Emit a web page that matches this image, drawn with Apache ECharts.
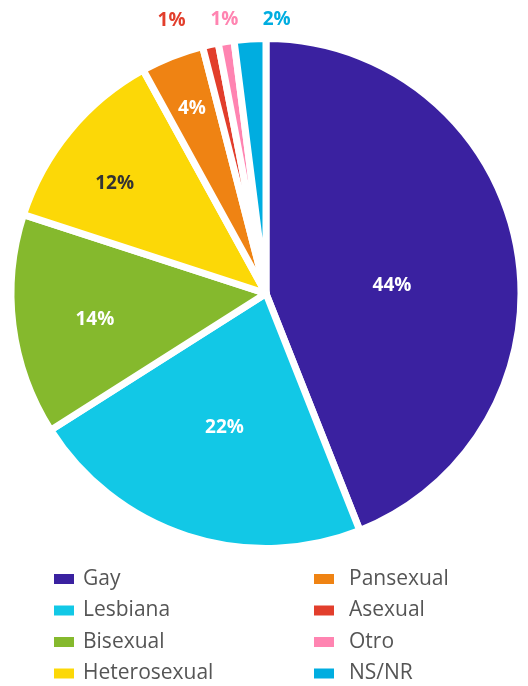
<!DOCTYPE html>
<html><head><meta charset="utf-8">
<script src="https://cdn.jsdelivr.net/npm/echarts@6/dist/echarts.min.js"></script>
<style>html,body{margin:0;padding:0;background:#fff}#c{width:528px;height:686px}</style>
</head><body><div id="c"></div>
<script>
// Data
const categories = ['Gay', 'Lesbiana', 'Bisexual', 'Heterosexual', 'Pansexual', 'Asexual', 'Otro', 'NS/NR'];
const values = [44, 22, 14, 12, 4, 1, 1, 2];
const legendLeft = ['Gay', 'Lesbiana', 'Bisexual', 'Heterosexual'];
const legendRight = ['Pansexual', 'Asexual', 'Otro', 'NS/NR'];

// Styles
const colors = ['#3a21a0', '#12c8e6', '#85b92d', '#fcd807', '#ef8313', '#e23e2c', '#ff84b1', '#00ade0'];
const labelColors = ['#ffffff', '#ffffff', '#ffffff', '#333333', '#ffffff', '#e23e2c', '#ff84b1', '#00ade0'];
const labelRadius = [0.51, 0.56, 0.69, 0.74, 0.80, 1.12, 1.107, 1.096];
const labelShiftX = [0, 2, 1, -8, 0, -33, 2, 28];
const labelShiftY = [16, 0, 4, 9, 2.5, 1.5, 1.5, 1.5];
const CX = 266, CY = 293.5, R = 251.5, BW = 7;

const total = values.reduce((a, b) => a + b, 0);
const mids = [];
let acc = 0;
values.forEach(v => { mids.push((acc + v / 2) / total); acc += v; });

const chart = echarts.init(document.getElementById('c'), null, {renderer: 'canvas'});
const FONT = '"Open Sans", "Noto Sans", sans-serif';

const legendCommon = {
  orient: 'vertical',
  icon: 'rect',
  itemWidth: 22,
  itemHeight: 12,
  itemGap: 9.5,
  padding: 0,
  height: 140,
  selectedMode: false,
  textStyle: {fontFamily: FONT, fontSize: 21, color: '#555555', lineHeight: 22, padding: [0, 0, 0, 3]}
};

chart.setOption({
  animation: false,
  color: colors,
  legend: [
    Object.assign({}, legendCommon, {left: 52, top: 568, data: legendLeft}),
    Object.assign({}, legendCommon, {left: 312, top: 568, data: legendRight, textStyle: Object.assign({}, legendCommon.textStyle, {padding: [0, 0, 0, 9]})})
  ],
  series: [{
    type: 'pie',
    center: [CX, CY],
    radius: R + BW / 2,
    startAngle: 90,
    clockwise: true,
    avoidLabelOverlap: false,
    percentPrecision: 0,
    itemStyle: {borderColor: '#ffffff', borderWidth: BW},
    emphasis: {disabled: true},
    labelLine: {show: false},
    label: {
      show: true,
      position: 'inside',
      formatter: '{d}%',
      fontFamily: FONT,
      fontSize: 19,
      fontWeight: 'bold'
    },
    labelLayout: function (p) {
      const i = p.dataIndex;
      const th = mids[i] * 2 * Math.PI;
      const r = R * labelRadius[i];
      return {
        x: CX + r * Math.sin(th) + labelShiftX[i],
        y: CY - r * Math.cos(th) + labelShiftY[i],
        align: 'center',
        verticalAlign: 'middle'
      };
    },
    data: categories.map((n, i) => ({
      name: n,
      value: values[i],
      label: {color: labelColors[i]}
    }))
  }]
});
</script>
</body></html>
